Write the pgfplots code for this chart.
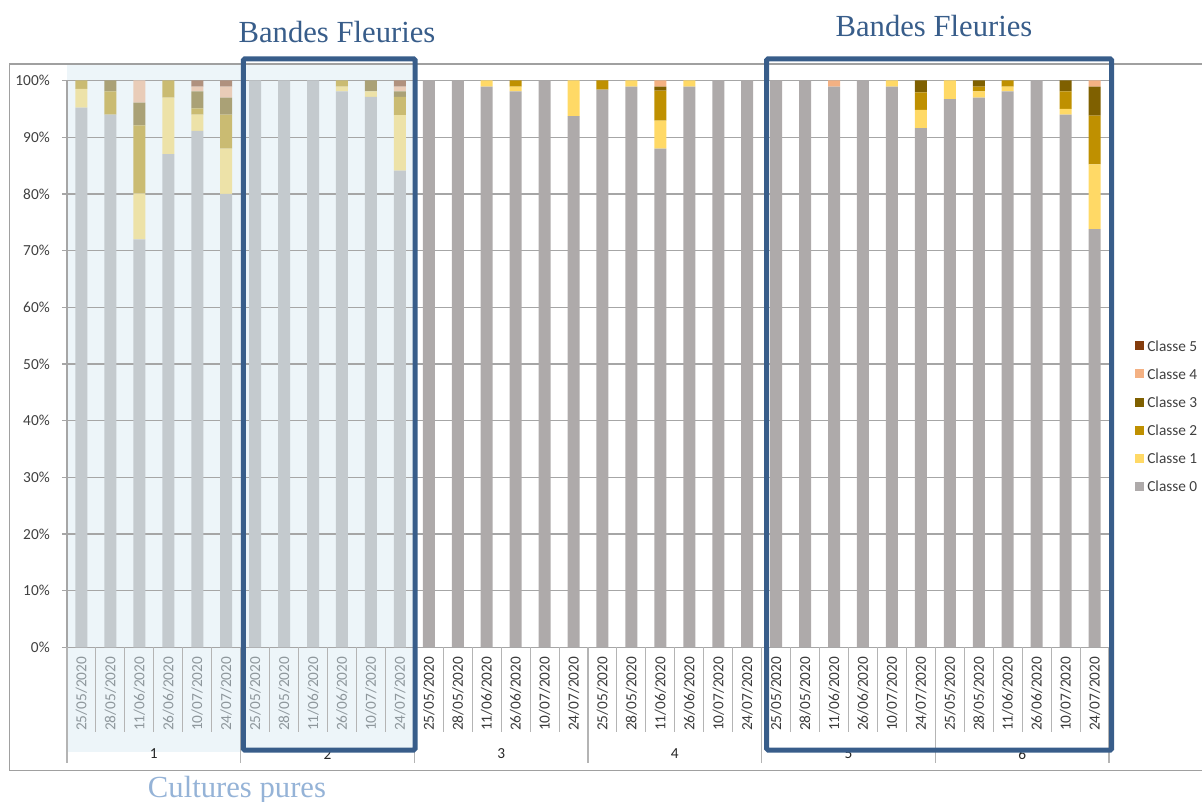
\documentclass[border=0pt]{standalone}
\usepackage{pgfplots}
\pgfplotsset{compat=1.18}
\usepackage{pgfplotstable}
\usepackage{fontspec}
\setmainfont{Carlito}
\newfontfamily\ttlfont{Liberation Serif}
\definecolor{cZ}{HTML}{AEAAAA}
\definecolor{cA}{HTML}{FFD966}
\definecolor{cB}{HTML}{BF9000}
\definecolor{cC}{HTML}{7F6000}
\definecolor{cD}{HTML}{F4B183}
\definecolor{cE}{HTML}{843C0C}
\definecolor{sZ}{HTML}{C4CACE}
\definecolor{sA}{HTML}{EDE2A8}
\definecolor{sB}{HTML}{CABB72}
\definecolor{sC}{HTML}{AAA176}
\definecolor{sD}{HTML}{E9CCB8}
\definecolor{sE}{HTML}{B0917E}
\definecolor{gridc}{HTML}{A6A6A6}
\definecolor{framec}{HTML}{A0A0A0}
\definecolor{sepc}{HTML}{B4B4B4}
\definecolor{boxblue}{HTML}{385D8A}
\definecolor{lightblue}{HTML}{95B3D7}
\definecolor{bgblue}{HTML}{EDF5F9}
\definecolor{txt}{HTML}{404040}
\definecolor{dateL}{HTML}{8E979C}
\pgfplotstableread{
x c0 c1 c2 c3 c4 c5
0 95.2 3.3 1.5 0 0 0
1 94.0 0 4.1 1.9 0 0
2 72.0 8.1 12.0 4.0 3.9 0
3 87.0 10.0 3.0 0 0 0
4 91.1 2.9 1.1 3.0 0.8 1.1
5 80.0 8.0 6.0 3.0 1.9 1.1
6 100 0 0 0 0 0
7 100 0 0 0 0 0
8 100 0 0 0 0 0
9 98.1 0.8 1.1 0 0 0
10 97.1 1.0 0 1.9 0 0
11 84.1 9.8 3.2 1.0 0.8 1.1
12 100 0 0 0 0 0
13 100 0 0 0 0 0
14 98.9 1.1 0 0 0 0
15 98.1 0.8 1.1 0 0 0
16 100 0 0 0 0 0
17 93.7 6.3 0 0 0 0
18 98.4 0 1.6 0 0 0
19 98.9 1.1 0 0 0 0
20 88.0 4.9 5.3 0.7 1.1 0
21 98.9 1.1 0 0 0 0
22 100 0 0 0 0 0
23 100 0 0 0 0 0
24 100 0 0 0 0 0
25 100 0 0 0 0 0
26 98.9 0 0 0 1.1 0
27 100 0 0 0 0 0
28 98.9 1.1 0 0 0 0
29 91.6 3.2 3.1 2.1 0 0
30 96.7 3.3 0 0 0 0
31 97.0 1.1 0.8 1.1 0 0
32 98.1 0.8 1.1 0 0 0
33 100 0 0 0 0 0
34 94.0 1.0 3.1 1.9 0 0
35 73.8 11.4 8.6 5.1 1.1 0
}\datatable
\newcommand{\dl}[1]{\textcolor{dateL}{#1}}
\begin{document}
\begin{tikzpicture}
\useasboundingbox (-50.25pt,-115.875pt) rectangle (851.25pt,485.625pt);
% light blue background behind groups 1 and 2
\fill[bgblue] (0,-78.4pt) rectangle (260.25pt,436.9pt);
\begin{axis}[
  at={(0,0)}, anchor=south west,
  scale only axis, width=781.5pt, height=425.25pt,
  xmin=-0.5, xmax=35.5, ymin=0, ymax=100,
  ybar stacked, bar width=9pt,
  clip=false,
  axis line style={draw=none},
  ymajorgrids, grid style={draw=gridc, line width=1pt},
  ytick={0,10,...,100},
  yticklabels={0\%,10\%,20\%,30\%,40\%,50\%,60\%,70\%,80\%,90\%,100\%},
  ytick pos=left,
  tick align=outside, major tick length=3.75pt,
  ytick style={draw=gridc, line width=1pt},
  xtick style={draw=none},
  yticklabel style={font=\fontsize{11.5}{13}\selectfont, text=txt, inner sep=0pt},
  yticklabel shift=9pt,
  xtick={0,...,35},
  xticklabels={\dl{25/05/2020},\dl{28/05/2020},\dl{11/06/2020},\dl{26/06/2020},\dl{10/07/2020},\dl{24/07/2020},
               \dl{25/05/2020},\dl{28/05/2020},\dl{11/06/2020},\dl{26/06/2020},\dl{10/07/2020},\dl{24/07/2020},
               25/05/2020,28/05/2020,11/06/2020,26/06/2020,10/07/2020,24/07/2020,
               25/05/2020,28/05/2020,11/06/2020,26/06/2020,10/07/2020,24/07/2020,
               25/05/2020,28/05/2020,11/06/2020,26/06/2020,10/07/2020,24/07/2020,
               25/05/2020,28/05/2020,11/06/2020,26/06/2020,10/07/2020,24/07/2020},
  xticklabel style={font=\fontsize{11.5}{13}\selectfont, text=txt!90!black, inner sep=0pt, rotate=90, anchor=east},
  xticklabel shift=3pt,
  legend image code/.code={\fill[#1,draw=none] (0pt,-3.4pt) rectangle (6.75pt,3.4pt); \path (9pt,0pt);},
  reverse legend,
  legend cell align=left,
  legend style={draw=none, fill=none, at={(1.025,0.542)}, anchor=north west,
    font=\fontsize{11.5}{13}\selectfont, text=txt, inner sep=0pt, row sep=13.1pt,
    nodes={inner sep=0pt, text height=8pt, text depth=0pt}},
]
\addplot[fill=sZ, draw=none] table[x=x, y expr={\thisrow{x}<11.5 ? \thisrow{c0} : 0}] {\datatable};
\addplot[fill=cZ, draw=none] table[x=x, y expr={\thisrow{x}<11.5 ? 0 : \thisrow{c0}}] {\datatable};
\addplot[fill=sA, draw=none] table[x=x, y expr={\thisrow{x}<11.5 ? \thisrow{c1} : 0}] {\datatable};
\addplot[fill=cA, draw=none] table[x=x, y expr={\thisrow{x}<11.5 ? 0 : \thisrow{c1}}] {\datatable};
\addplot[fill=sB, draw=none] table[x=x, y expr={\thisrow{x}<11.5 ? \thisrow{c2} : 0}] {\datatable};
\addplot[fill=cB, draw=none] table[x=x, y expr={\thisrow{x}<11.5 ? 0 : \thisrow{c2}}] {\datatable};
\addplot[fill=sC, draw=none] table[x=x, y expr={\thisrow{x}<11.5 ? \thisrow{c3} : 0}] {\datatable};
\addplot[fill=cC, draw=none] table[x=x, y expr={\thisrow{x}<11.5 ? 0 : \thisrow{c3}}] {\datatable};
\addplot[fill=sD, draw=none] table[x=x, y expr={\thisrow{x}<11.5 ? \thisrow{c4} : 0}] {\datatable};
\addplot[fill=cD, draw=none] table[x=x, y expr={\thisrow{x}<11.5 ? 0 : \thisrow{c4}}] {\datatable};
\addplot[fill=sE, draw=none] table[x=x, y expr={\thisrow{x}<11.5 ? \thisrow{c5} : 0}] {\datatable};
\addplot[fill=cE, draw=none] table[x=x, y expr={\thisrow{x}<11.5 ? 0 : \thisrow{c5}}] {\datatable};
\legend{,Classe 0,,Classe 1,,Classe 2,,Classe 3,,Classe 4,,Classe 5}
\end{axis}
% left axis line
\draw[gridc, line width=1pt] (0,0) -- (0,425.25pt);
% category separators
\foreach \k in {0,...,36} \draw[sepc, line width=0.8pt] ({\k*21.7083pt},0) -- ({\k*21.7083pt},-63.4pt);
\foreach \k in {0,6,12,18,24,30,36} \draw[sepc, line width=0.8pt] ({\k*21.7083pt},0) -- ({\k*21.7083pt},-86.6pt);
% outer frame
\draw[framec, line width=1pt] (900pt,437.6pt) -- (-43.3pt,437.6pt) -- (-43.3pt,-92.4pt) -- (900pt,-92.4pt);
% group labels
\foreach \g/\c in {1/65.1,2/195.4,3/325.6,4/455.9,5/586.1,6/716.4}
  \node[font=\fontsize{11.5}{13}\selectfont, text=black!85] at (\c pt,-79.9pt) {\g};
% blue boxes
\draw[boxblue, line width=3.75pt, rounded corners=1pt] (132.2pt,-76.9pt) rectangle (261pt,441.4pt);
\draw[boxblue, line width=3.75pt, rounded corners=1pt] (524.8pt,-76.9pt) rectangle (783.5pt,441.4pt);
% titles
\node[font=\ttlfont\fontsize{23}{26}\selectfont, text=boxblue] at (202.5pt,461.6pt) {Bandes Fleuries};
\node[font=\ttlfont\fontsize{23}{26}\selectfont, text=boxblue] at (650.25pt,466.1pt) {Bandes Fleuries};
\node[font=\ttlfont\fontsize{23}{26}\selectfont, text=lightblue] at (127.5pt,-106.9pt) {Cultures pures};
\end{tikzpicture}
\end{document}
